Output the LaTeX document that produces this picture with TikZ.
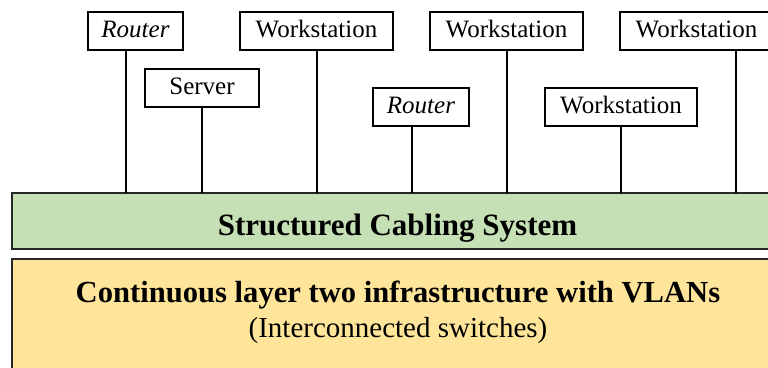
\documentclass[tikz,border=0pt]{standalone}
\usepackage{fontspec}
\setmainfont{Liberation Serif}
\definecolor{cabgreen}{RGB}{197,224,180}
\definecolor{ltwoyellow}{RGB}{255,229,153}
\begin{document}
\begin{tikzpicture}[x=1pt,y=-1pt,
  dev/.style={draw=black,line width=1.1pt,fill=white,minimum height=38pt,
    inner xsep=0pt,inner ysep=0pt,text height=17pt,text depth=5pt,
    font=\fontsize{25}{28}\selectfont},
  link/.style={line width=1.1pt},
  band/.style={draw=black!85,line width=1.4pt,inner sep=0pt},
  bandtext/.style={anchor=base,inner sep=0pt}]
\useasboundingbox (0,0) rectangle (768,367);
\clip (0,0) rectangle (768,367);
% bands
\node[band,fill=cabgreen,minimum width=771pt,minimum height=56pt] (scs) at (397.5,221) {};
\node[band,fill=ltwoyellow,minimum width=771pt,minimum height=140pt] (ltwo) at (397.5,329) {};
\node[bandtext,font=\fontsize{31}{34}\selectfont\bfseries] (scstext) at (397.5,235) {Structured Cabling System};
\node[bandtext,font=\fontsize{30.6}{34}\selectfont\bfseries] (ltwotexta) at (398,302) {Continuous layer two infrastructure with VLANs};
\node[bandtext,font=\fontsize{29}{33}\selectfont] (ltwotextb) at (398,337) {(Interconnected switches)};
% attachment points on the cabling band
\coordinate (c1) at (126,193);
\coordinate (c2) at (202,193);
\coordinate (c3) at (317,193);
\coordinate (c4) at (412,193);
\coordinate (c5) at (507,193);
\coordinate (c6) at (621,193);
\coordinate (c7) at (736,193);
% devices
\node[dev,minimum width=95pt] (r1) at (135.5,31) {\textit{Router}};
\node[dev,minimum width=114pt] (sv) at (202,88) {Server};
\node[dev,minimum width=153pt] (w1) at (316.5,31) {Workstation};
\node[dev,minimum width=96pt] (r2) at (421,107) {\textit{Router}};
\node[dev,minimum width=153pt] (w2) at (506.5,31) {Workstation};
\node[dev,minimum width=152pt] (w3) at (621,107) {Workstation};
\node[dev,minimum width=153pt] (w4) at (696.5,31) {Workstation};
% links
\draw[link] (r1.south -| c1) -- (c1);
\draw[link] (sv.south -| c2) -- (c2);
\draw[link] (w1.south -| c3) -- (c3);
\draw[link] (r2.south -| c4) -- (c4);
\draw[link] (w2.south -| c5) -- (c5);
\draw[link] (w3.south -| c6) -- (c6);
\draw[link] (w4.south -| c7) -- (c7);
\end{tikzpicture}
\end{document}
